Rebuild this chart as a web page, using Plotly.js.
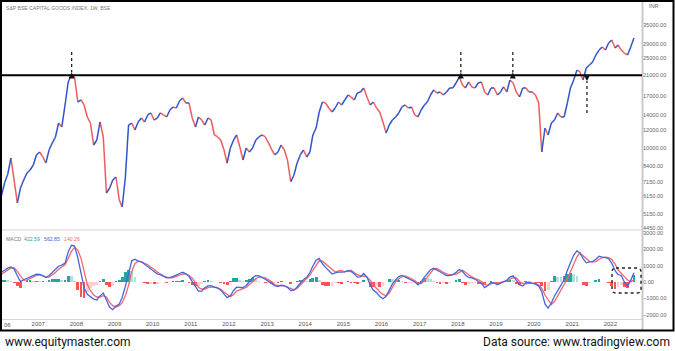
<!DOCTYPE html>
<html><head><meta charset="utf-8">
<script src="https://cdn.plot.ly/plotly-3.0.1.min.js"></script>
<style>html,body{margin:0;padding:0;background:#fff;}#chart{width:675px;height:351px;}</style>
</head><body><div id="chart"></div>
<script>
// ---- DATA (monthly, Jan 2006 .. Aug 2022) ----
const firstOpen = 5930;
const priceClose = [
  6240,7100,7700,9080,7260,5760,6700,7260,7800,8040,8460,9360,        // 2006
  9650,9170,8630,9850,10570,11240,12950,12440,15550,19630,21070,20650, // 2007
  16030,16360,15550,13770,12950,10360,10900,13090,11240,6370,6700,7260, // 2008
  7490,5930,5530,7490,12690,12950,12070,13090,13630,13090,14050,14340, // 2009
  13350,13630,14340,14050,13770,14780,15240,15080,16190,16700,15870,15870, // 2010
  13630,12440,13770,13350,12690,13630,13350,11470,11240,10900,9850,8630, // 2011
  10050,10900,11470,10150,8900,10050,9650,10050,10900,11240,11470,11240, // 2012
  10570,9850,9370,9650,10360,9850,8900,7150,7640,8630,9370,9850,       // 2013
  9170,9650,11470,12310,14480,16030,15870,15080,14480,15080,16030,15550, // 2014
  16360,17210,16870,16360,17570,17750,18480,16870,15550,16030,15080,14480, // 2015
  13090,11700,12690,13350,13770,14340,15240,15550,15080,15240,14050,13770, // 2016
  14780,15550,16030,17210,18110,17570,17750,17210,17750,18480,18480,19430, // 2017
  20650,19050,18480,19630,18670,18480,19430,19630,17750,17210,18480,18480, // 2018
  17210,17750,18670,17750,20030,19430,17750,16870,18480,18480,17750,17750, // 2019
  17210,15870,9650,12310,11470,12950,13350,14340,13770,13770,15870,18480, // 2020
  20030,22170,21730,20030,22620,23320,24050,25820,27150,28000,27150,29160, // 2021
  30060,27720,28570,27150,26340,25820,28000,30700                        // 2022
];
const macdLine = [
  600,735,850,920,800,380,30,140,220,300,380,480,
  470,400,280,400,580,760,970,1040,1160,1840,2250,2200,
  1500,550,-350,-760,-880,-1050,-1100,-850,-680,-1080,-1550,-1700,
  -1480,-1350,-950,-250,550,1300,1400,1280,1240,1100,950,790,
  630,490,450,370,250,270,330,420,520,600,500,350,
  20,-320,-560,-560,-360,-240,-220,-320,-370,-500,-740,-960,
  -850,-520,-320,-340,-350,-210,50,270,390,380,290,160,
  60,-100,-220,-280,-190,-230,-330,-530,-500,-310,-50,140,
  280,580,980,1330,1450,1120,900,680,490,560,610,600,
  620,710,650,500,300,320,520,300,-180,-510,-650,-880,
  -1030,-880,-480,-120,130,330,400,300,220,130,20,-170,
  0,300,520,750,840,750,630,510,390,400,450,590,
  760,660,420,280,250,170,50,-90,-340,-220,-40,-50,
  -170,-60,50,110,300,380,120,-160,-250,-40,-20,-60,
  -130,-250,-600,-1350,-1600,-1290,-860,-530,-200,140,700,1220,
  1650,1910,1800,1440,1180,1230,1250,1400,1580,1520,1500,1430,
  1150,700,460,400,0,-250,100,562.85
];
const signalLine = [
  480,600,750,860,860,650,370,120,120,200,310,400,
  430,360,300,300,420,580,780,930,1050,1450,1880,2120,
  1960,1450,620,-150,-520,-800,-920,-920,-840,-920,-1250,-1450,
  -1530,-1450,-1270,-850,-200,650,1120,1280,1240,1170,1060,900,
  780,600,480,380,300,260,270,360,430,490,490,400,
  230,-50,-320,-430,-430,-340,-300,-300,-360,-450,-610,-780,
  -900,-760,-560,-480,-420,-340,-150,50,200,290,290,250,
  130,10,-170,-220,-240,-240,-330,-420,-480,-400,-200,30,
  200,420,720,1000,1300,1280,1120,920,730,610,680,700,
  640,650,720,580,450,370,380,300,110,-180,-420,-600,
  -760,-850,-680,-280,10,200,320,370,290,200,70,-80,
  -90,70,300,570,790,830,740,600,500,440,450,490,
  590,720,600,430,310,210,150,30,-140,-220,-110,-60,
  -60,-20,20,60,170,270,250,30,-100,-110,-70,-60,
  -80,-180,-380,-800,-1100,-1380,-1200,-860,-520,-200,200,650,
  1150,1550,1780,1600,1420,1270,1230,1250,1400,1500,1530,1490,
  1380,1100,750,560,330,120,20,140.26
];
const yearLabels = ['2006','2007','2008','2009','2010','2011','2012','2013','2014','2015','2016','2017','2018','2019','2020','2021','2022'];
const priceTicks = [35000,29000,25000,21000,17000,14000,12000,10000,8400,7150,6150,5150,4450];
const macdTicks = [3000,2000,1000,0,-1000,-2000];
const resistanceLevel = 21000;
const legendValues = {hist:'422.59', macd:'562.85', signal:'140.26'};

// ---- derived ----
const dates = priceClose.map((_, i) => {
  const y = 2006 + Math.floor(i / 12), m = (i % 12) + 1;
  return y + '-' + String(m).padStart(2, '0') + '-15';
});
const upX = [], upY = [], dnX = [], dnY = [];
priceClose.forEach((c, i) => {
  const x0 = i === 0 ? '2006-01-01' : dates[i - 1];
  const y0 = i === 0 ? firstOpen : priceClose[i - 1];
  const X = c >= y0 ? upX : dnX, Y = c >= y0 ? upY : dnY;
  X.push(x0, dates[i], null); Y.push(y0, c, null);
});
const hist = macdLine.map((v, i) => v - signalLine[i]);
const histColors = hist.map((h, i) => {
  const p = i === 0 ? 0 : hist[i - 1];
  if (h >= 0) return h >= p ? '#26a69a' : '#b2dfdb';
  return h < p ? '#ff5252' : '#ffcdd2';
});

const W = 675, H = 351;
const px = x => x / W, py = y => 1 - y / H;
const BLUE = '#3553c9', RED = '#f05b5b';
const labelFont = {family: 'Liberation Sans, Arial, sans-serif', size: 5.6, color: '#666'};

const traces = [
  {type: 'bar', x: dates, y: hist, xaxis: 'x', yaxis: 'y2', width: 27 * 864e5,
   marker: {color: histColors, line: {width: 0}}, hoverinfo: 'skip'},
  {type: 'scatter', mode: 'lines', x: dnX, y: dnY, xaxis: 'x', yaxis: 'y', connectgaps: false,
   line: {color: RED, width: 1.5}, hoverinfo: 'skip'},
  {type: 'scatter', mode: 'lines', x: upX, y: upY, xaxis: 'x', yaxis: 'y', connectgaps: false,
   line: {color: BLUE, width: 1.5}, hoverinfo: 'skip'},
  {type: 'scatter', mode: 'lines', x: dates, y: signalLine, xaxis: 'x', yaxis: 'y2',
   line: {color: '#f26670', width: 1.3}, hoverinfo: 'skip'},
  {type: 'scatter', mode: 'lines', x: dates, y: macdLine, xaxis: 'x', yaxis: 'y2',
   line: {color: '#4466dd', width: 1.3}, hoverinfo: 'skip'}
];

const arrows = [
  {x: '2007-11-17', from: 26610, to: 21600},
  {x: '2018-01-30', from: 26610, to: 21600},
  {x: '2019-06-12', from: 26610, to: 21600},
  {x: '2021-05-22', from: 14340, to: 19830}
];
const shapes = [
  {type: 'line', xref: 'paper', yref: 'paper', x0: 0, x1: px(642), y0: py(230), y1: py(230), line: {color: '#e4e4e4', width: 1.5}},
  {type: 'line', xref: 'paper', yref: 'paper', x0: 0, x1: px(642), y0: py(319.5), y1: py(319.5), line: {color: '#d4d4d4', width: 1}},
  {type: 'line', xref: 'paper', yref: 'paper', x0: px(642.5), x1: px(642.5), y0: py(0), y1: py(331), line: {color: '#c9c9c9', width: 2}},
  {type: 'line', xref: 'paper', yref: 'y', x0: 0, x1: px(642), y0: resistanceLevel, y1: resistanceLevel, line: {color: '#000', width: 2}},
  {type: 'rect', xref: 'paper', yref: 'paper', x0: px(1), x1: px(673.5), y0: py(330.5), y1: py(1), line: {color: '#000', width: 2}}
];
arrows.forEach(a => {
  shapes.push({type: 'line', xref: 'x', yref: 'y', x0: a.x, x1: a.x, y0: a.from, y1: a.to,
    line: {color: '#222', width: 1.3, dash: 'dot'}});
});
(function () {
  const x0 = 612, x1 = 641, y0 = 268, y1 = 293, r = 4;
  const P = (x, y) => px(x) + ',' + py(y);
  const path = 'M' + P(x0 + r, y0) + ' L' + P(x1 - r, y0) + ' Q' + P(x1, y0) + ' ' + P(x1, y0 + r) +
    ' L' + P(x1, y1 - r) + ' Q' + P(x1, y1) + ' ' + P(x1 - r, y1) +
    ' L' + P(x0 + r, y1) + ' Q' + P(x0, y1) + ' ' + P(x0, y1 - r) +
    ' L' + P(x0, y0 + r) + ' Q' + P(x0, y0) + ' ' + P(x0 + r, y0) + ' Z';
  shapes.push({type: 'path', xref: 'paper', yref: 'paper', path: path, line: {color: '#222', width: 1.4, dash: 'dot'}});
})();

const smallFont = (c, s) => ({family: 'Liberation Sans, Arial, sans-serif', size: s, color: c});
const annotations = [
  {xref: 'paper', yref: 'paper', x: px(4), y: py(8), xanchor: 'left', yanchor: 'middle', showarrow: false,
   text: 'S&P BSE CAPITAL GOODS INDEX, 1W, BSE', font: smallFont('#777', 5.1)},
  {xref: 'paper', yref: 'paper', x: px(647), y: py(6), xanchor: 'left', yanchor: 'middle', showarrow: false,
   text: 'INR', font: labelFont},
  {xref: 'paper', yref: 'paper', x: px(4), y: py(239), xanchor: 'left', yanchor: 'middle', showarrow: false,
   text: 'MACD', font: smallFont('#777', 5.2)},
  {xref: 'paper', yref: 'paper', x: px(22), y: py(239), xanchor: 'left', yanchor: 'middle', showarrow: false,
   text: legendValues.hist, font: smallFont('#26a69a', 5.2)},
  {xref: 'paper', yref: 'paper', x: px(42), y: py(239), xanchor: 'left', yanchor: 'middle', showarrow: false,
   text: legendValues.macd, font: smallFont('#4466dd', 5.2)},
  {xref: 'paper', yref: 'paper', x: px(62), y: py(239), xanchor: 'left', yanchor: 'middle', showarrow: false,
   text: legendValues.signal, font: smallFont('#f26670', 5.2)},
  {xref: 'paper', yref: 'paper', x: px(1.5), y: py(325), xanchor: 'left', yanchor: 'middle', showarrow: false,
   text: yearLabels[0].slice(2), font: smallFont('#555', 6)},
  {xref: 'paper', yref: 'paper', x: px(3), y: py(342), xanchor: 'left', yanchor: 'middle', showarrow: false,
   text: 'www.equitymaster.com', font: {family: 'Roboto, sans-serif', size: 12, color: '#111'}},
  {xref: 'paper', yref: 'paper', x: px(672), y: py(342), xanchor: 'right', yanchor: 'middle', showarrow: false,
   text: 'Data source: www.tradingview.com', font: {family: 'Roboto, sans-serif', size: 12, color: '#111'}}
];
arrows.forEach(a => {
  const down = a.to > a.from;
  annotations.push({xref: 'x', yref: 'y', x: a.x, y: Math.log10(a.to), text: '', showarrow: true,
    ax: 0, ay: down ? -5 : 5, arrowhead: 2, arrowsize: 1, arrowwidth: 1.2, arrowcolor: '#111', standoff: 0});
});

const layout = {
  width: W, height: H, margin: {l: 0, r: 0, t: 0, b: 0},
  paper_bgcolor: '#fff', plot_bgcolor: '#fff', showlegend: false, bargap: 0,
  xaxis: {type: 'date', domain: [0, px(642)], range: ['2005-12-31', '2022-10-31'], anchor: 'y2',
    showgrid: false, zeroline: false, showline: false, ticks: '',
    tickvals: yearLabels.slice(1).map(y => y + '-01-01'), ticktext: yearLabels.slice(1),
    tickfont: smallFont('#555', 6), automargin: false},
  yaxis: {type: 'log', domain: [py(229), py(2)], range: [3.6454, 4.6454], side: 'right', anchor: 'x',
    showgrid: false, zeroline: false, showline: false, ticks: '',
    tickvals: priceTicks, ticktext: priceTicks.map(v => v.toFixed(2)), tickfont: labelFont, automargin: false},
  yaxis2: {domain: [py(319), py(231)], range: [-2270, 3129], side: 'right', anchor: 'x',
    showgrid: false, zeroline: false, showline: false, ticks: '',
    tickvals: macdTicks, ticktext: macdTicks.map(v => (v < 0 ? '\u2212' : '') + Math.abs(v).toFixed(2)),
    tickfont: labelFont, automargin: false},
  shapes: shapes, annotations: annotations
};
Plotly.newPlot('chart', traces, layout, {staticPlot: true, displayModeBar: false});
</script></body></html>
